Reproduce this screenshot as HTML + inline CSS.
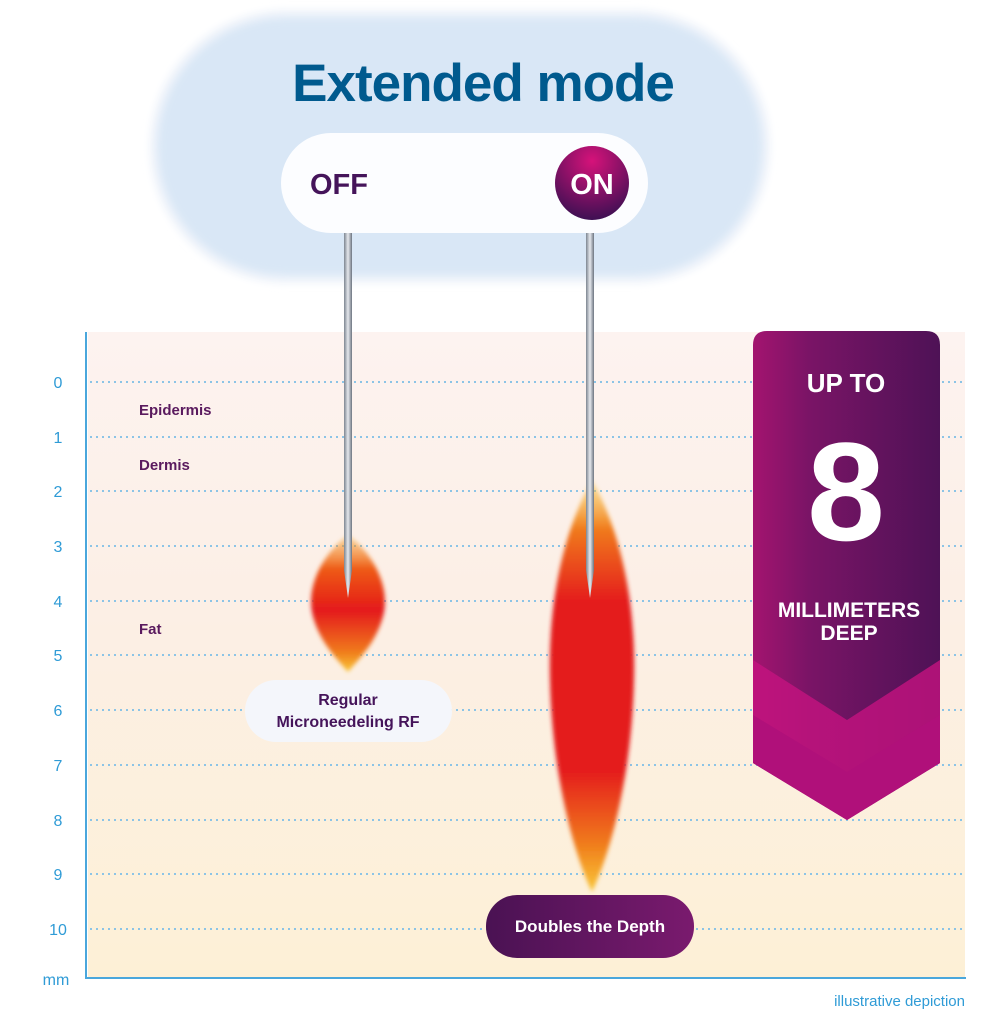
<!DOCTYPE html>
<html><head><meta charset="utf-8"><style>
body{margin:0;background:#fff;}
svg{display:block;font-family:"Liberation Sans",sans-serif;}
</style></head><body>
<svg width="998" height="1024" viewBox="0 0 998 1024">
<defs>
<linearGradient id="bg" x1="0" y1="0" x2="0" y2="1">
<stop offset="0" stop-color="#fdf3f0"/><stop offset="0.4" stop-color="#fcefe6"/><stop offset="1" stop-color="#fdf0d6"/>
</linearGradient>
<linearGradient id="fl1" x1="0" y1="0" x2="0" y2="1">
<stop offset="0" stop-color="#f6a21c" stop-opacity="0.3"/><stop offset="0.25" stop-color="#ee5a18"/><stop offset="0.55" stop-color="#e41a1a"/><stop offset="0.85" stop-color="#f07a1a"/><stop offset="1" stop-color="#f9c83a"/>
</linearGradient>
<linearGradient id="fl2" x1="0" y1="0" x2="0" y2="1">
<stop offset="0" stop-color="#f9c83a" stop-opacity="0.4"/><stop offset="0.12" stop-color="#f07a1a"/><stop offset="0.3" stop-color="#e41a1a"/><stop offset="0.7" stop-color="#e41a1a"/><stop offset="0.88" stop-color="#f07a1a"/><stop offset="1" stop-color="#f9c83a"/>
</linearGradient>
<linearGradient id="needle" x1="0" x2="1">
<stop offset="0" stop-color="#7d8590"/><stop offset="0.5" stop-color="#e6e9ee"/><stop offset="1" stop-color="#6c7480"/>
</linearGradient>
<radialGradient id="on" cx="0.5" cy="0.2" r="0.8">
<stop offset="0" stop-color="#d6127a"/><stop offset="1" stop-color="#3e1053"/>
</radialGradient>
<linearGradient id="ban" x1="0" x2="1">
<stop offset="0" stop-color="#a3146f"/><stop offset="0.3" stop-color="#7a1466"/><stop offset="1" stop-color="#4e1256"/>
</linearGradient>
<linearGradient id="dp" x1="0" x2="1"><stop offset="0" stop-color="#4a1253"/><stop offset="1" stop-color="#7a1a6e"/></linearGradient>
<filter id="blur2" x="-20%" y="-20%" width="140%" height="140%"><feGaussianBlur stdDeviation="4"/></filter>
<filter id="blur3"><feGaussianBlur stdDeviation="2"/></filter>
</defs>
<rect x="88" y="332" width="877" height="646" fill="url(#bg)"/>
<line x1="86" y1="332" x2="86" y2="979" stroke="#4aa7dc" stroke-width="2"/>
<line x1="86" y1="978" x2="966" y2="978" stroke="#4aa7dc" stroke-width="2"/>
<g stroke="#8cc4e6" stroke-width="2" stroke-dasharray="2 4">
<line x1="90" y1="382" x2="965" y2="382"/><line x1="90" y1="437" x2="965" y2="437"/>
<line x1="90" y1="491" x2="965" y2="491"/><line x1="90" y1="546" x2="965" y2="546"/>
<line x1="90" y1="601" x2="965" y2="601"/><line x1="90" y1="655" x2="965" y2="655"/>
<line x1="90" y1="710" x2="965" y2="710"/><line x1="90" y1="765" x2="965" y2="765"/>
<line x1="90" y1="820" x2="965" y2="820"/><line x1="90" y1="874" x2="965" y2="874"/>
<line x1="90" y1="929" x2="965" y2="929"/>
</g>
<g fill="#2f9bd6" font-size="16" text-anchor="middle">
<text x="58" y="388">0</text><text x="58" y="443">1</text><text x="58" y="497">2</text><text x="58" y="552">3</text>
<text x="58" y="607">4</text><text x="58" y="661">5</text><text x="58" y="716">6</text><text x="58" y="771">7</text>
<text x="58" y="826">8</text><text x="58" y="880">9</text><text x="58" y="935">10</text><text x="56" y="985">mm</text>
</g>
<text x="965" y="1006" text-anchor="end" fill="#2f9bd6" font-size="15">illustrative depiction</text>
<g fill="#5a1a5e" font-size="15" font-weight="bold">
<text x="139" y="415">Epidermis</text><text x="139" y="470">Dermis</text><text x="139" y="634">Fat</text>
</g>
<!-- flames -->
<path d="M348,535 C375,555 392,590 382,620 C374,645 358,660 348,672 C338,660 322,645 314,620 C304,590 321,555 348,535 Z" fill="url(#fl1)" filter="url(#blur3)"/>
<path d="M592,480 C620,530 636,600 634,680 C632,770 612,850 592,892 C572,850 552,770 550,680 C548,600 564,530 592,480 Z" fill="url(#fl2)" filter="url(#blur3)"/>
<!-- banner -->
<path d="M753,345 Q753,331 767,331 L926,331 Q940,331 940,345 L940,763 L847,820 L753,763 Z" fill="url(#ban)"/>
<path d="M753,660 L847,720 L940,660 L940,763 L847,820 L753,763 Z" fill="#c4137f" opacity="0.8"/>
<path d="M753,715 L847,772 L940,715 L940,763 L847,820 L753,763 Z" fill="#b0107a"/>
<text x="846" y="392" text-anchor="middle" fill="#fff" font-size="26" font-weight="bold">UP TO</text>
<text x="846" y="540" text-anchor="middle" fill="#fff" font-size="140" font-weight="bold">8</text>
<text x="849" y="617" text-anchor="middle" fill="#fff" font-size="21" font-weight="bold">MILLIMETERS</text>
<text x="849" y="640" text-anchor="middle" fill="#fff" font-size="21" font-weight="bold">DEEP</text>
<!-- top pill -->
<rect x="150" y="10" width="620" height="273" rx="136" fill="#eef3fa" filter="url(#blur2)"/>
<rect x="158" y="18" width="604" height="257" rx="128" fill="#d9e7f6" filter="url(#blur2)"/>
<text x="483" y="101" text-anchor="middle" fill="#005a8e" font-size="53" font-weight="bold" letter-spacing="-1">Extended mode</text>
<rect x="281" y="133" width="367" height="100" rx="50" fill="#fcfdff"/>
<text x="310" y="194" fill="#45145a" font-size="29" font-weight="bold">OFF</text>
<circle cx="592" cy="183" r="37" fill="url(#on)"/>
<text x="592" y="194" text-anchor="middle" fill="#fff" font-size="29" font-weight="bold">ON</text>
<!-- needles -->
<path d="M344,233 L352,233 L352,570 L348,598 L344,570 Z" fill="url(#needle)"/>
<path d="M586,233 L594,233 L594,570 L590,598 L586,570 Z" fill="url(#needle)"/>
<!-- labels -->
<rect x="245" y="680" width="207" height="62" rx="31" fill="#f4f6fb"/>
<text x="348" y="705" text-anchor="middle" fill="#45145a" font-size="16" font-weight="bold">Regular</text>
<text x="348" y="727" text-anchor="middle" fill="#45145a" font-size="16" font-weight="bold">Microneedeling RF</text>
<rect x="486" y="895" width="208" height="63" rx="31" fill="url(#dp)"/>
<text x="590" y="932" text-anchor="middle" fill="#fff" font-size="17" font-weight="bold">Doubles the Depth</text>
</svg>
</body></html>
